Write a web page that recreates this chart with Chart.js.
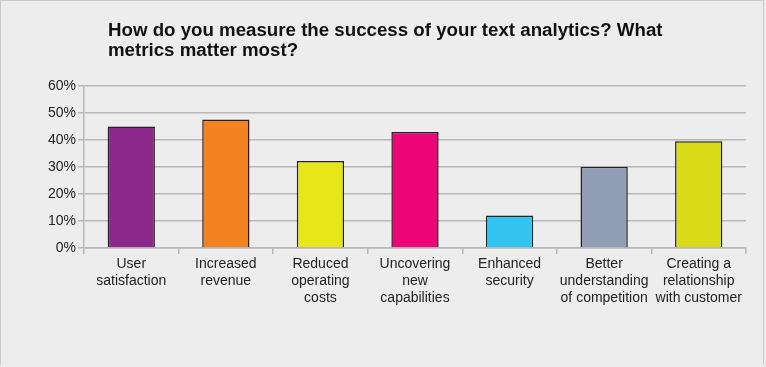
<!DOCTYPE html>
<html>
<head>
<meta charset="utf-8">
<script src="https://cdn.jsdelivr.net/npm/chart.js@4"></script>
<style>
  html, body { margin: 0; padding: 0; background: #ededed; }
  #frame {
    position: absolute; left: 0; top: 0; width: 762px; height: 364px;
    border: 1px solid #c9c9c9; border-bottom: none; background: #ededed;
  }
  #title {
    position: absolute; left: 108px; top: 20px; width: 640px;
    font: bold 18.7px "Liberation Sans", Arial, sans-serif; line-height: 20px; color: #111;
  }
  #wrap { position: absolute; left: 0; top: 0; width: 766px; height: 367px; }
</style>
</head>
<body>
<div id="frame"></div>
<div id="wrap"><canvas id="metricsChart"></canvas></div>
<div id="title">How do you measure the success of your text analytics? What<br>metrics matter most?</div>
<script>
// Data
const categories = [
    ['User', 'satisfaction'],
    ['Increased', 'revenue'],
    ['Reduced', 'operating', 'costs'],
    ['Uncovering', 'new', 'capabilities'],
    ['Enhanced', 'security'],
    ['Better', 'understanding', 'of competition'],
    ['Creating a', 'relationship', 'with customer']
];
const shares = [45, 47.6, 32.2, 43, 12, 30.1, 39.5];
const barColors = ['#8c278b', '#f58220', '#e6e619', '#ec0677', '#33c4f0', '#919cb5', '#d9db19'];
const yTicks = [0, 10, 20, 30, 40, 50, 60];

document.addEventListener('DOMContentLoaded', function() {
    const ctx = document.getElementById('metricsChart').getContext('2d');
    const font = { family: '"Liberation Sans", Arial, sans-serif', size: 14 };
    new Chart(ctx, {
        type: 'bar',
        data: {
            labels: categories,
            datasets: [{
                data: shares,
                backgroundColor: barColors,
                borderColor: '#222222',
                borderWidth: 1.5,
                barPercentage: 0.5,
                categoryPercentage: 1
            }]
        },
        options: {
            responsive: true,
            maintainAspectRatio: false,
            animation: false,
            layout: { padding: { top: 86, right: 20, left: 0, bottom: 0 } },
            plugins: {
                legend: { display: false },
                tooltip: { enabled: false }
            },
            scales: {
                y: {
                    min: 0,
                    max: 60,
                    afterBuildTicks: function(scale) {
                        scale.ticks = yTicks.map(v => ({ value: v }));
                    },
                    afterFit: function(scale) { scale.width = 84; },
                    ticks: {
                        color: '#222',
                        font: font,
                        padding: 2,
                        callback: v => v + '%'
                    },
                    grid: { color: '#b8b8b8', lineWidth: 1.5, tickLength: 6 },
                    border: { color: '#b8b8b8', width: 1.5 }
                },
                x: {
                    afterFit: function(scale) { scale.height = 119; },
                    ticks: {
                        color: '#222',
                        font: font,
                        maxRotation: 0,
                        autoSkip: false,
                        padding: 2
                    },
                    grid: { drawOnChartArea: false, color: '#b8b8b8', lineWidth: 1.5, tickLength: 6 },
                    border: { color: '#b8b8b8', width: 1.5 }
                }
            }
        }
    });
});
</script>
</body>
</html>
